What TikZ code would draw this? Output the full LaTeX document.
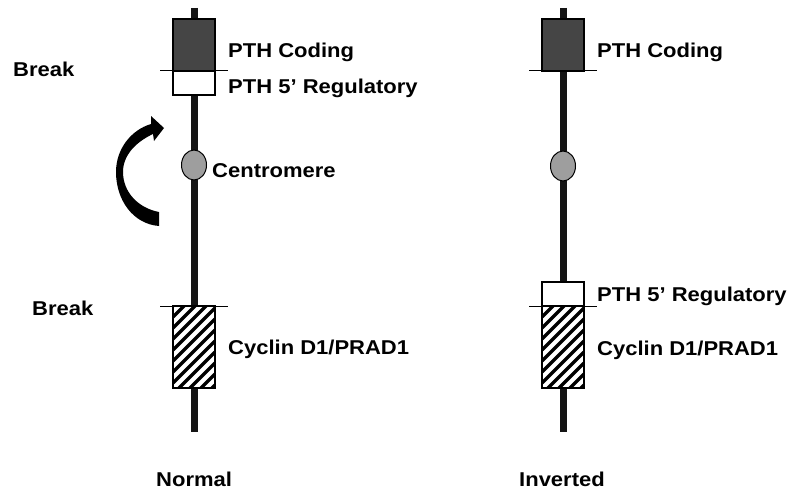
\documentclass[tikz,border=0pt]{standalone}
\usepackage{fontspec}
\newfontfamily\lblfont{Liberation Sans}[FakeStretch=1.1]
\usetikzlibrary{shapes.geometric}

\begin{document}
\begin{tikzpicture}[x=1pt,y=-1pt,
	chrom/.style={line width=7pt,black!92},
	brk/.style={line width=1pt,black},
	genebox/.style={draw=black,line width=1.2pt},
	cenmark/.style={ellipse,draw,line width=1pt,fill=black!38,
		minimum width=25pt,minimum height=30pt,inner sep=0pt},
	lbl/.style={font=\lblfont\fontsize{20}{24}\selectfont\bfseries,
		anchor=base west,inner sep=0pt}]
\useasboundingbox (0,0) rectangle (790,495);
%%%  define coordinates of both chromosomes
\foreach \n/\x in {N/194,I/563}{%
	\coordinate (\n;top) at (\x,8);
	\coordinate (\n;bot) at (\x,432);
}
%%%%%%%%% draw chromosomes %%%%%%%%
\foreach \n in {N,I}{%
	\draw[chrom] (\n;top) -- (\n;bot);}
\foreach \x in {194,563}{%
	% coding part
	\draw[genebox,fill=black!73] (\x-21,19) rectangle (\x+21,71);
	% cyclin part, hatched
	\draw[genebox,fill=white] (\x-21,306) rectangle (\x+21,388);
	\begin{scope}
		\clip (\x-21,306) rectangle (\x+21,388);
		\foreach \k in {0,...,11}{%
			\draw[line width=3.2pt] (\x-21,306+11*\k) -- ++(42,-42);}
	\end{scope}
	\draw[line width=1.2pt] (\x-21,306) rectangle (\x+21,388);
	% break lines
	\draw[brk] (\x-34,71) -- (\x+34,71);
	\draw[brk] (\x-34,306) -- (\x+34,306);
}
%%% 5' regulatory parts
\draw[genebox,fill=white] (173,71) rectangle (215,95);
\draw[genebox,fill=white] (542,282) rectangle (584,306);
%%% centromeres
\node[cenmark] (cenN;e) at (194,165) {};
\node[cenmark] (cenI;e) at (563,166) {};
%%% inversion arrow
\fill (159,226) .. controls (133,224) and (116,200) .. (116,172)
	.. controls (116,149) and (131,130) .. (151,124) -- (151,116)
	-- (164,128) -- (154,141) -- (153,134)
	.. controls (136,142) and (123,155) .. (123,172)
	.. controls (123,192) and (138,208) .. (159,212) -- cycle;
%%%%%%%%% labels %%%%%%%%
\node[lbl] (codN) at (228,57.5) {PTH Coding};
\node[lbl] (regN) at (228,93.5) {PTH 5’ Regulatory};
\node[lbl] (cenN) at (212,177) {Centromere};
\node[lbl] (cycN) at (228,354) {Cyclin D1/PRAD1};
\node[lbl] (brkA) at (13,76.5) {Break};
\node[lbl] (brkB) at (32,315.5) {Break};
\node[lbl] (nrm) at (156,486.5) {Normal};
\node[lbl] (codI) at (597,57.5) {PTH Coding};
\node[lbl] (regI) at (597,301.5) {PTH 5’ Regulatory};
\node[lbl] (cycI) at (597,355) {Cyclin D1/PRAD1};
\node[lbl] (inv) at (519,486.5) {Inverted};
\end{tikzpicture}
\end{document}
